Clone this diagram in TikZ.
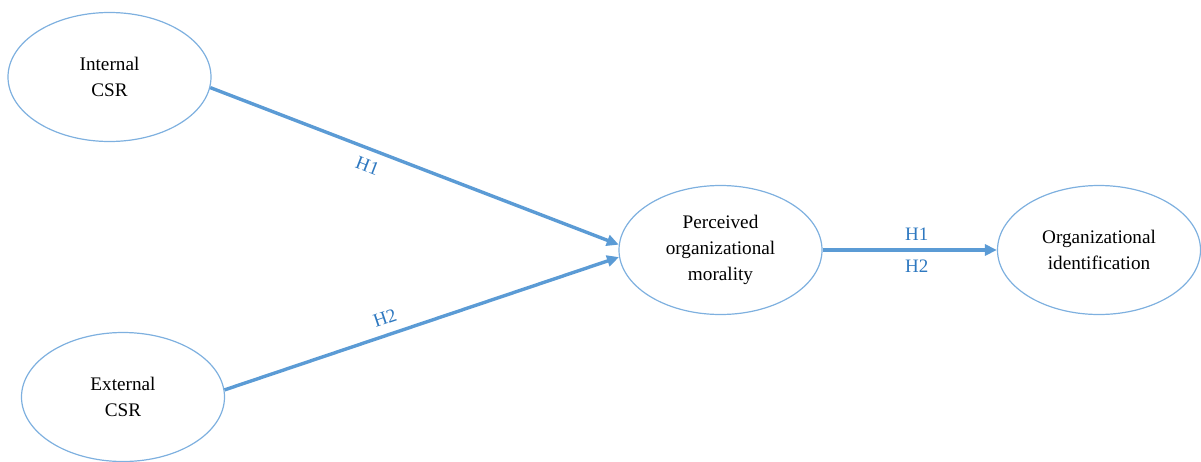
\documentclass[tikz,border=0pt]{standalone}
\usepackage{fontspec}
\setmainfont{Liberation Serif}
\usetikzlibrary{shapes.geometric,arrows.meta}
\definecolor{lineblue}{HTML}{5B9BD5}
\definecolor{edgeblue}{HTML}{7EB0DF}
\definecolor{labblue}{HTML}{2E78C0}
\tikzset{
  construct/.style={ellipse, draw=edgeblue, line width=1.2pt, minimum width=203pt, minimum height=129pt, inner sep=0pt, align=center, font=\fontsize{19.2}{26}\selectfont, text=black},
  path/.style={draw=lineblue, line width=3.4pt, -{Triangle[length=12pt,width=11pt]}},
  hlab/.style={text=labblue, font=\fontsize{19}{22}\selectfont, inner sep=1pt}
}
\begin{document}
\begin{tikzpicture}[x=1pt,y=-1pt]
\useasboundingbox (0,0) rectangle (1201,461);
\node[construct] (int) at (109.5,77) {Internal\\CSR};
\node[construct] (ext) at (123,397) {External\\CSR};
\node[construct] (pom) at (720.5,250) {Perceived\\organizational\\morality};
\node[construct] (oid) at (1099,250) {Organizational\\identification};
\draw[path] (int.-6) -- (pom.177) node[hlab, sloped, below=8pt, pos=0.4] {H1};
\draw[path] (ext.4) -- (pom.184) node[hlab, sloped, above=8pt, pos=0.42] {H2};
\draw[path] (pom.east) -- (oid.west)
  node[hlab, above=7pt, pos=0.54] {H1}
  node[hlab, below=7pt, pos=0.54] {H2};
\end{tikzpicture}
\end{document}
